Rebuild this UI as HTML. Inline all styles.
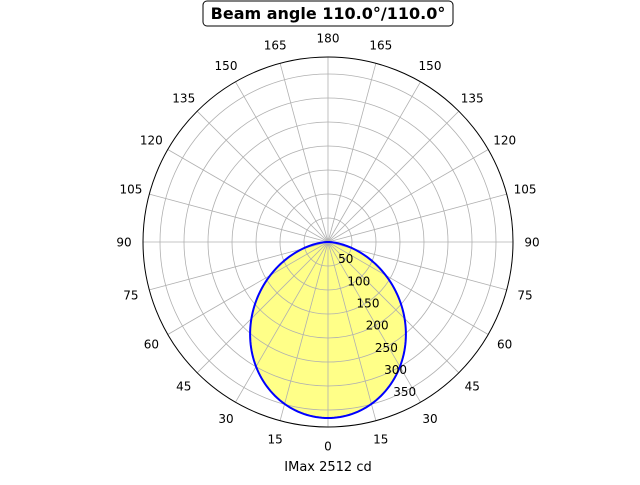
<!DOCTYPE html>
<html><head><meta charset="utf-8"><style>
body{margin:0;background:#fff;}
svg text{font-family:"DejaVu Sans","Liberation Sans",sans-serif;font-size:12px;fill:#000;}
</style></head><body>
<svg id="s" width="640" height="480" xmlns="http://www.w3.org/2000/svg"></svg>
<script>
const s=document.getElementById('s');const cx=328,cy=242,R=185,k=24/50;
let h='';
let pts=[];
for(let d=-90;d<=90;d+=1){const t=d*Math.PI/180;const c=Math.cos(t);const r=176*Math.pow(Math.max(c,0),1.4);pts.push((cx+r*Math.sin(t)).toFixed(2)+','+(cy+r*Math.cos(t)).toFixed(2));}
const curve='M'+pts.join(' L')+' Z';
h+=`<path d="${curve}" fill="#ffff88" stroke="none"/>`;
for(let v=50;v<=350;v+=50)h+=`<circle cx="${cx}" cy="${cy}" r="${v*k}" fill="none" stroke="#b0b0b0" stroke-width="0.8"/>`;
for(let a=0;a<360;a+=15){const t=a*Math.PI/180;h+=`<line x1="${cx}" y1="${cy}" x2="${cx+R*Math.sin(t)}" y2="${cy+R*Math.cos(t)}" stroke="#b0b0b0" stroke-width="0.8"/>`;}
h+=`<path d="${curve}" fill="none" stroke="#0000ff" stroke-width="2"/>`;
h+=`<circle cx="${cx}" cy="${cy}" r="${R}" fill="none" stroke="#000" stroke-width="1"/>`;
for(let a=0;a<360;a+=15){const t=a*Math.PI/180;const lab=a<=180?a:360-a;h+=`<text x="${cx+204*Math.sin(t)}" y="${cy+204*Math.cos(t)+4.5}" text-anchor="middle">${lab}</text>`;}
const tt=22.5*Math.PI/180;
for(let v=50;v<=350;v+=50){const r=v*k;h+=`<text x="${cx+r*Math.sin(tt)+1}" y="${cy+r*Math.cos(tt)-1}" text-anchor="start">${v}</text>`;}
h+=`<rect x="203" y="1" width="250" height="25" rx="4" fill="#fff" stroke="#000" stroke-width="1"/>`;
h+=`<text x="328" y="19" text-anchor="middle" style="font-size:16px;font-weight:bold">Beam angle 110.0°/110.0°</text>`;
h+=`<text x="328" y="471" text-anchor="middle" style="font-size:13px">IMax 2512 cd</text>`;
s.innerHTML=h;
</script>
</body></html>
